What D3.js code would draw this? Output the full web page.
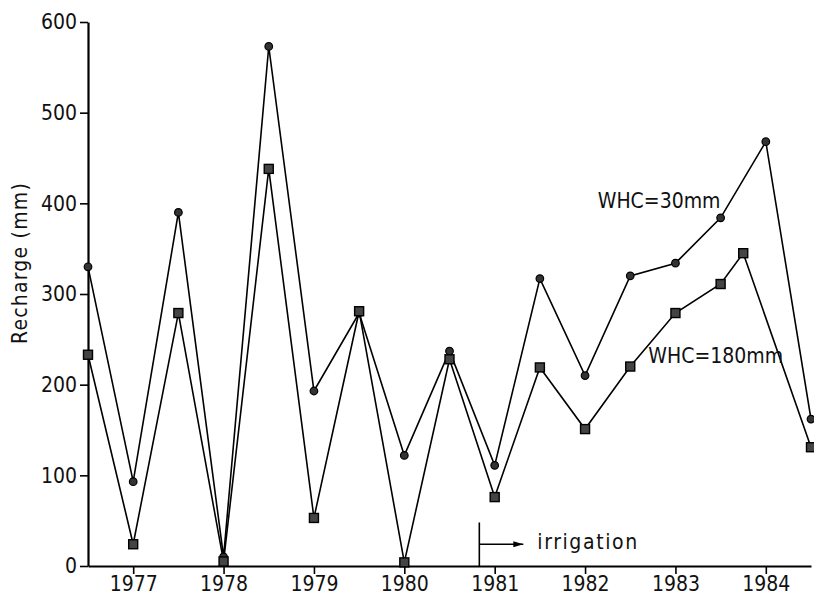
<!DOCTYPE html>
<html lang="en">
<head>
<meta charset="utf-8">
<title>Recharge</title>
<script src="https://cdn.jsdelivr.net/npm/d3@7"></script>
<style>
  body { margin: 0; background: #fff; }
  text { font-family: "DejaVu Sans Condensed", "DejaVu Sans", sans-serif; fill: #111; }
  .axis path, .axis line { stroke: #000; }
  .series { fill: none; stroke: #000; stroke-width: 1.6px; }
</style>
</head>
<body>
<div id="chart"></div>
<script>
// data
var years30  = [1976.5, 1977, 1977.5, 1978, 1978.5, 1979, 1979.5, 1980, 1980.5, 1981, 1981.5, 1982, 1982.5, 1983, 1983.5, 1984, 1984.5];
var whc30    = [330, 93, 390, 10, 573, 193, 279, 122, 237, 111, 317, 210, 320, 334, 384, 468, 162];
var years180 = [1976.5, 1977, 1977.5, 1978, 1978.5, 1979, 1979.5, 1980, 1980.5, 1981, 1981.5, 1982, 1982.5, 1983, 1983.5, 1983.75, 1984.5];
var whc180   = [233, 24, 279, 5, 438, 53, 281, 4, 228, 76, 219, 151, 220, 279, 311, 345, 131];
var yearTicks = [1977, 1978, 1979, 1980, 1981, 1982, 1983, 1984];
var rechargeTicks = [0, 100, 200, 300, 400, 500, 600];
var irrigationStart = 1980.83;

var width = 814, height = 605;
var margin = {top: 22, right: 3, bottom: 39, left: 88};
var fontSize = "21px";

var svg = d3.select("#chart").append("svg")
    .attr("width", width)
    .attr("height", height);

var x = d3.scaleLinear()
    .domain([1976.5, 1984.5])
    .range([margin.left, width - margin.right]);

var y = d3.scaleLinear()
    .domain([0, 600])
    .range([height - margin.bottom, margin.top]);

// axes
var xAxis = svg.append("g")
    .attr("class", "axis")
    .attr("transform", "translate(0," + y(0) + ")")
    .call(d3.axisBottom(x).tickValues(yearTicks).tickFormat(d3.format("d")).tickSize(8).tickSizeOuter(0).tickPadding(2));
xAxis.select(".domain").attr("stroke-width", 2.2);
xAxis.selectAll(".tick line").attr("stroke-width", 1.6);
xAxis.selectAll("text").style("font-size", fontSize).attr("fill", "#111");

var yAxis = svg.append("g")
    .attr("class", "axis")
    .attr("transform", "translate(" + x(1976.5) + ",0)")
    .call(d3.axisLeft(y).tickValues(rechargeTicks).tickSize(8).tickSizeOuter(0).tickPadding(3));
yAxis.select(".domain").attr("stroke-width", 2.2);
yAxis.selectAll(".tick line").attr("stroke-width", 1.6);
yAxis.selectAll("text").style("font-size", fontSize).attr("fill", "#111");

svg.append("text")
    .attr("transform", "translate(27," + (y(300) - 31) + ") rotate(-90)")
    .attr("text-anchor", "middle")
    .style("font-size", fontSize)
    .style("letter-spacing", "1.2px")
    .text("Recharge (mm)");

// series
var line = d3.line()
    .x(function(d) { return x(d[0]); })
    .y(function(d) { return y(d[1]); });

var pts30 = years30.map(function(d, i) { return [d, whc30[i]]; });
var pts180 = years180.map(function(d, i) { return [d, whc180[i]]; });

svg.append("path").datum(pts30).attr("class", "series").attr("d", line);
svg.append("path").datum(pts180).attr("class", "series").attr("d", line);

svg.append("g").selectAll("circle")
    .data(pts30)
  .enter().append("circle")
    .attr("cx", function(d) { return x(d[0]); })
    .attr("cy", function(d) { return y(d[1]); })
    .attr("r", 3.8)
    .attr("fill", "#333")
    .attr("stroke", "#000")
    .attr("stroke-width", 1.2);

svg.append("g").selectAll("rect")
    .data(pts180)
  .enter().append("rect")
    .attr("x", function(d) { return x(d[0]) - 4.5; })
    .attr("y", function(d) { return y(d[1]) - 4.5; })
    .attr("width", 9)
    .attr("height", 9)
    .attr("fill", "#444")
    .attr("stroke", "#000")
    .attr("stroke-width", 1.4);

// labels
svg.append("text")
    .attr("x", x(1982.14)).attr("y", y(395))
    .style("font-size", fontSize)
    .text("WHC=30mm");

svg.append("text")
    .attr("x", x(1982.7)).attr("y", y(224))
    .style("font-size", fontSize)
    .text("WHC=180mm");

// irrigation marker
svg.append("line")
    .attr("x1", x(irrigationStart)).attr("x2", x(irrigationStart))
    .attr("y1", y(0)).attr("y2", y(48))
    .attr("stroke", "#000").attr("stroke-width", 1.6);

svg.append("defs").append("marker")
    .attr("id", "arrow")
    .attr("viewBox", "0 0 10 6")
    .attr("refX", 10).attr("refY", 3)
    .attr("markerWidth", 12).attr("markerHeight", 6)
    .attr("markerUnits", "userSpaceOnUse")
    .attr("orient", "auto")
  .append("path")
    .attr("d", "M0,0L10,3L0,6Z")
    .attr("fill", "#000");

svg.append("line")
    .attr("x1", x(irrigationStart)).attr("x2", x(irrigationStart) + 44)
    .attr("y1", y(24)).attr("y2", y(24))
    .attr("stroke", "#000").attr("stroke-width", 1.6)
    .attr("marker-end", "url(#arrow)");

svg.append("text")
    .attr("x", x(irrigationStart) + 58).attr("y", y(19))
    .style("font-size", fontSize)
    .style("letter-spacing", "1.6px")
    .text("irrigation");
</script>
</body>
</html>
